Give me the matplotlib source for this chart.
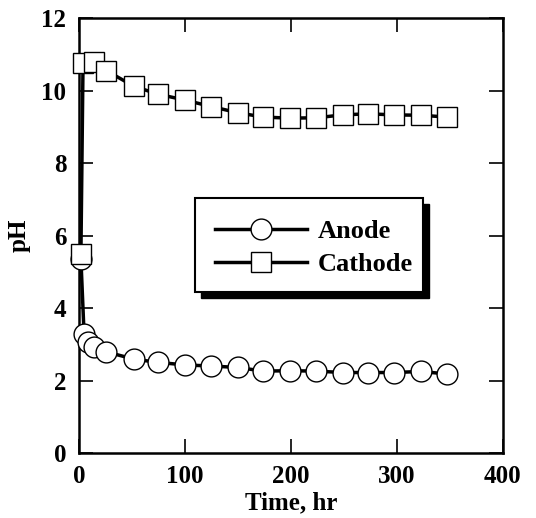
"""pH of anode / cathode compartments vs time."""

import matplotlib
matplotlib.use("Agg")
import matplotlib.pyplot as plt
from matplotlib.patches import Rectangle

# ── data ────────────────────────────────────────────────
anode_t = [2, 5, 9, 14, 26, 52, 75, 100, 125, 150, 174, 199, 224, 249, 273, 297, 323, 347]
anode_ph = [5.35, 3.27, 3.06, 2.93, 2.79, 2.59, 2.50, 2.43, 2.40, 2.36, 2.26, 2.27,
            2.26, 2.22, 2.22, 2.22, 2.25, 2.18]

cathode_t = [2, 4, 14, 26, 52, 75, 100, 125, 150, 174, 199, 224, 249, 273, 297, 323, 347]
cathode_ph = [5.5, 10.77, 10.78, 10.55, 10.12, 9.90, 9.74, 9.56, 9.39, 9.27, 9.24,
              9.25, 9.33, 9.36, 9.33, 9.32, 9.27]

x_ticks = [0, 100, 200, 300, 400]
y_ticks = [0, 2, 4, 6, 8, 10, 12]

FONT = "Liberation Serif"
plt.rcParams["font.family"] = [FONT, "DejaVu Serif"]
plt.rcParams["font.weight"] = "bold"


def main():
    fig = plt.figure(figsize=(5.36, 5.18), dpi=100)
    ax = fig.add_axes([0.147, 0.1255, 0.791, 0.8395])

    ax.plot(anode_t, anode_ph, "-o", color="black", lw=2.5, ms=15,
            mfc="white", mec="black", mew=1.0, label="Anode", zorder=3, clip_on=False)
    ax.plot(cathode_t, cathode_ph, "-s", color="black", lw=2.5, ms=15,
            mfc="white", mec="black", mew=1.0, label="Cathode", zorder=4, clip_on=False)

    ax.set_xlim(0, 400); ax.set_ylim(0, 12)
    ax.set_xticks(x_ticks); ax.set_yticks(y_ticks)
    ax.tick_params(direction="in", length=10, width=1.2, labelsize=18,
                   top=True, right=True, pad=9)
    for lab in ax.get_xticklabels() + ax.get_yticklabels():
        lab.set_fontweight("bold")
    for sp in ax.spines.values():
        sp.set_linewidth(1.8)

    ax.set_xlabel("Time, hr", fontsize=18, fontweight="bold", labelpad=2)
    ax.set_ylabel("pH", fontsize=18, fontweight="bold", labelpad=8)

    # legend box with solid drop shadow
    bx, by, bw, bh = 0.274, 0.370, 0.537, 0.216
    ax.add_patch(Rectangle((bx + 0.014, by - 0.014), bw, bh, transform=ax.transAxes,
                           facecolor="black", edgecolor="black", zorder=5))
    ax.add_patch(Rectangle((bx, by), bw, bh, transform=ax.transAxes,
                           facecolor="white", edgecolor="black", lw=1.5, zorder=6))
    leg = ax.legend(loc="center left", bbox_to_anchor=(0.321, 0.472), frameon=False,
                    borderpad=0, borderaxespad=0, handlelength=3.5, handletextpad=0.4,
                    labelspacing=0.35, prop={"family": FONT, "weight": "bold", "size": 19})
    leg.set_zorder(7)

    fig.savefig("out.png", dpi=100)


if __name__ == "__main__":
    main()
